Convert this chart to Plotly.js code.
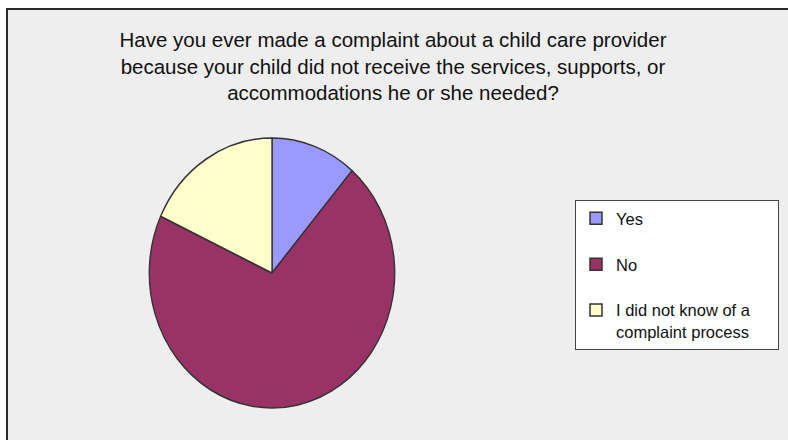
<!DOCTYPE html>
<html>
<head>
<meta charset="utf-8">
<script src="https://cdn.plot.ly/plotly-3.0.1.min.js"></script>
<style>
  html, body { margin: 0; padding: 0; background: #ffffff; }
  #chart { width: 788px; height: 440px; }
  /* the reference pie is slightly elliptical (narrower than tall) */
  #chart .pielayer { transform-origin: 272px 0px; transform: scaleX(0.909); }
</style>
</head>
<body>
<div id="chart"></div>
<script>
// ---- data ----
const categories = ['Yes', 'No', 'I did not know of a complaint process'];
const legendLabels = ['Yes<br>\u00a0', 'No<br>\u00a0', 'I did not know of a\u00a0\u00a0\u00a0\u00a0\u00a0<br>complaint process'];
const shares = [11.3, 70.6, 18.1];
const sliceColors = ['#9999ff', '#993366', '#ffffcc'];
const chartTitle = 'Have you ever made a complaint about a child care provider<br>because your child did not receive the services, supports, or<br>accommodations he or she needed?';

const W = 788, H = 440;

const trace = {
  type: 'pie',
  labels: legendLabels,
  values: shares,
  customdata: categories,
  hovertemplate: '%{customdata}: %{value}%<extra></extra>',
  sort: false,
  direction: 'clockwise',
  rotation: 0,
  textinfo: 'none',
  marker: { colors: sliceColors, line: { color: '#333333', width: 1.5 } },
  domain: {
    x: [(272 - 135) / W, (272 + 135) / W],
    y: [(H - 273 - 135) / H, (H - 273 + 135) / H]
  }
};

const layout = {
  width: W, height: H,
  margin: { l: 0, r: 0, t: 0, b: 0 },
  paper_bgcolor: '#ffffff',
  font: { family: 'Liberation Sans, Arial, sans-serif', color: '#000000' },
  title: {
    text: chartTitle,
    font: { family: 'Liberation Sans, Arial, sans-serif', size: 20.5, color: '#111111' },
    x: 393 / W, xanchor: 'center',
    y: 1 - 47 / H, yanchor: 'top',
    xref: 'paper', yref: 'paper'
  },
  shapes: [{
    type: 'rect', xref: 'paper', yref: 'paper', layer: 'below',
    x0: 7 / W, x1: 1.05, y0: -0.05, y1: 1 - 9 / H,
    fillcolor: '#eeeeee', line: { color: '#2a2a2a', width: 2 }
  }],
  showlegend: true,
  legend: {
    x: 575 / W, xanchor: 'left',
    y: 1 - 200 / H, yanchor: 'top',
    bgcolor: '#ffffff', bordercolor: '#444444', borderwidth: 1,
    font: { family: 'Liberation Sans, Arial, sans-serif', size: 16.5, color: '#111111' },
    valign: 'top',
    traceorder: 'normal'
  }
};

Plotly.newPlot('chart', [trace], layout, { displayModeBar: false, staticPlot: true });
</script>
</body>
</html>
